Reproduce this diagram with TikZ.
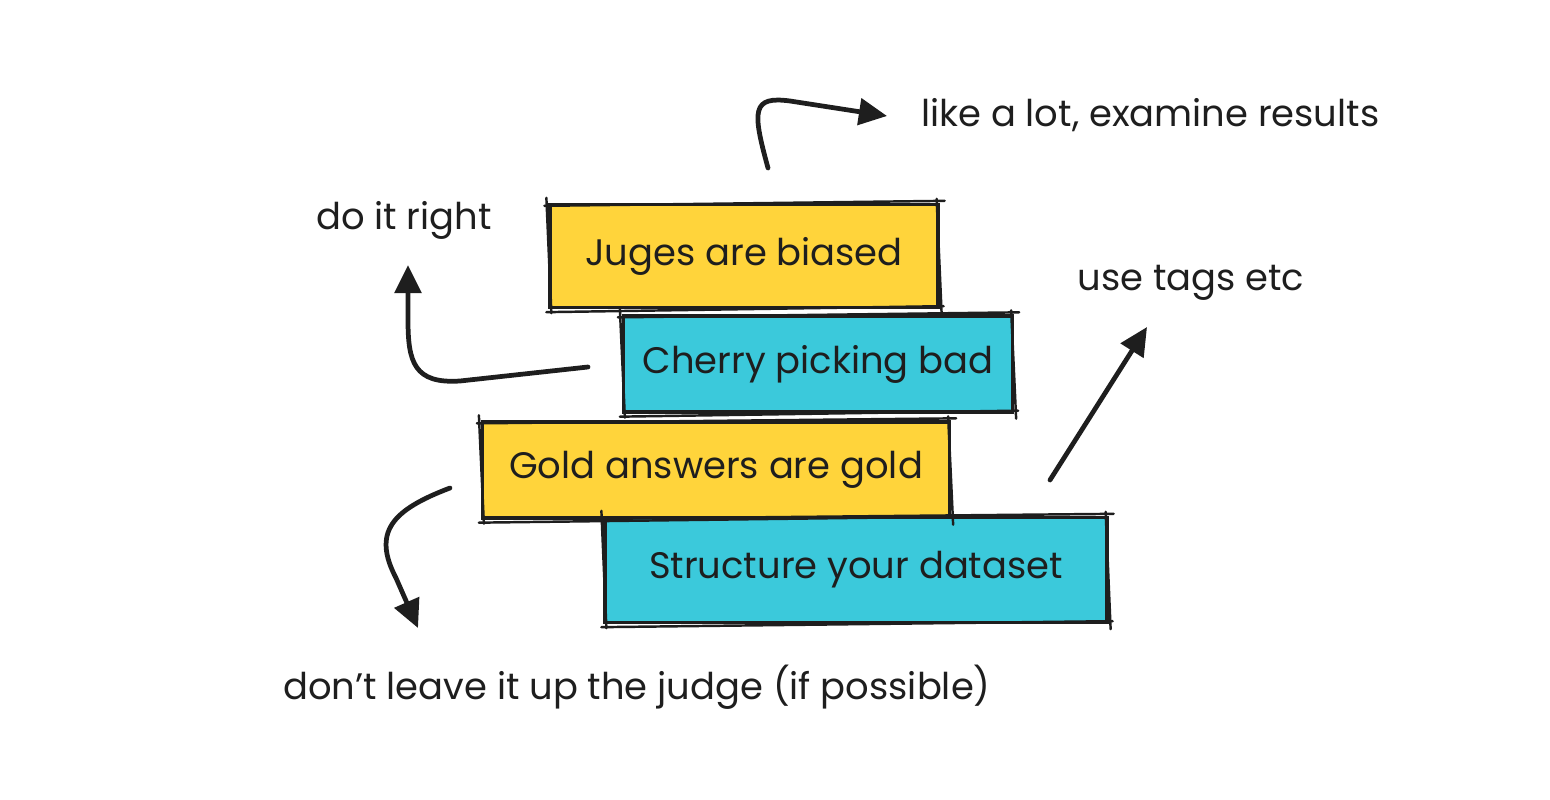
\documentclass[tikz,border=0pt]{standalone}
\usepackage{fontspec}
\setmainfont{Poppins}
\usetikzlibrary{positioning,calc,arrows.meta}
\definecolor{stickyyellow}{HTML}{FFD43B}
\definecolor{stickycyan}{HTML}{3BC9DB}
\definecolor{ink}{HTML}{1E1E1E}

\tikzset{
  card/.style={draw=ink, line width=1.9pt, inner sep=0pt, text=ink,
    font=\fontsize{21}{25}\selectfont},
  yellowcard/.style={card, fill=stickyyellow},
  cyancard/.style={card, fill=stickycyan},
  note/.style={text=ink, font=\fontsize{21}{25}\selectfont},
  sketch/.style={ink, line width=1.4pt, line cap=round},
  pointer/.style={ink, line width=2.7pt, line cap=round,
    -{Triangle[length=16pt,width=15pt]}},
}

\begin{document}
\begin{tikzpicture}[x=0.02cm, y=-0.02cm]
    \useasboundingbox (0,0) rectangle (1550,800);

    % Stacked cards
    \node[yellowcard, minimum width=7.76cm, minimum height=2.06cm] (juges) at (744,256) {Juges are biased};
    \node[cyancard, minimum width=7.78cm, minimum height=1.92cm] (cherry) at (818,364) {Cherry picking bad};
    \node[yellowcard, minimum width=9.34cm, minimum height=1.92cm] (gold) at (716,470) {Gold answers are gold};
    \node[cyancard, minimum width=10.04cm, minimum height=2.1cm] (structure) at (856,570) {Structure your dataset};

    % second pencil stroke round each card
    \foreach \n in {juges, cherry, gold, structure} {
        \draw[sketch] ([shift={(-4,3)}]\n.north west) -- ([shift={(5,-2)}]\n.north east);
        \draw[sketch] ([shift={(-3,-4)}]\n.north east) -- ([shift={(2,5)}]\n.south east);
        \draw[sketch] ([shift={(4,-3)}]\n.south east) -- ([shift={(-2,3)}]\n.south west);
        \draw[sketch] ([shift={(3,4)}]\n.south west) -- ([shift={(-2,-5)}]\n.north west);
    }

    % Notes
    \node[note, anchor=west] (examine) at (915,115) {like a lot, examine results};
    \node[note] (right) at (404,220) {do it right};
    \node[note] (tags) at (1191,283) {use tags etc};
    \node[note] (judge) at (637,687) {don’t leave it up the judge (if possible)};

    % Arrows
    \coordinate (a1s) at (768,168);
    \coordinate (a1e) at (887,116);
    \draw[pointer] (a1s) .. controls (752,110) and (752,96) .. (790,101) -- (a1e);

    \coordinate (a2s) at (588,367);
    \coordinate (a2e) at (408,265);
    \draw[pointer] (a2s) -- (460,381) .. controls (414,384) and (408,362) .. (408,320) -- (a2e);

    \coordinate (a3s) at (450,488);
    \coordinate (a3e) at (418,628);
    \draw[pointer] (a3s) .. controls (392,510) and (372,532) .. (396,578) -- (a3e);

    \coordinate (a4s) at (1050,480);
    \coordinate (a4e) at (1147,327);
    \draw[pointer] (a4s) -- (a4e);
\end{tikzpicture}
\end{document}
